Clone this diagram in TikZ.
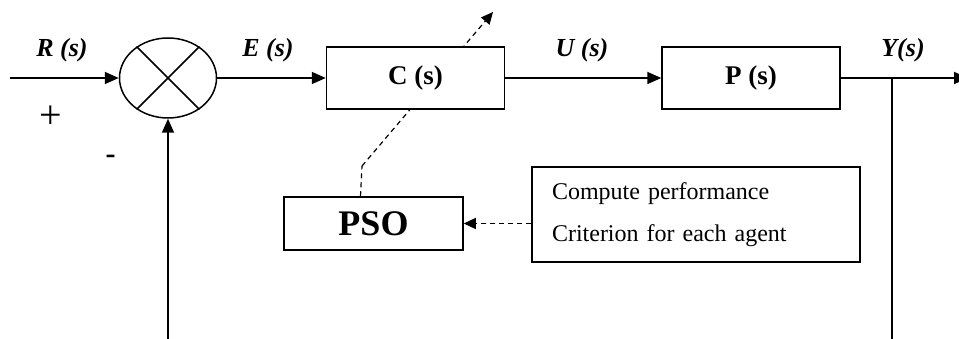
\documentclass[tikz,border=0pt]{standalone}
\usepackage{fontspec}
\setmainfont{Liberation Serif}
\usepackage{tikz}
\usetikzlibrary{shapes.geometric, arrows.meta}
\tikzstyle{block} = [rectangle, minimum width=178pt, minimum height=62pt, inner sep=0pt, text centered, draw=black, fill=white, line width=1.5pt, font=\fontsize{27}{30}\selectfont\bfseries]
\tikzstyle{summer} = [ellipse, minimum width=97pt, minimum height=80pt, inner sep=0pt, draw=black, line width=1.5pt]
\tikzstyle{signal} = [font=\fontsize{26}{30}\selectfont\bfseries\itshape]
\tikzstyle{sign} = [inner sep=0pt, font=\fontsize{40}{42}\selectfont]
\tikzstyle{arrow} = [line width=1.8pt,-{Triangle[length=14pt,width=12pt]}]
\tikzstyle{dasharrow} = [line width=1.2pt, dash pattern=on 5pt off 4pt,-{Triangle[length=12pt,width=11pt]}]

\begin{document}
\begin{tikzpicture}[x=1pt, y=-1pt]
		\useasboundingbox (0,0) rectangle (959,339);

		\node (sum) [summer] at (168,78) {};
		\node (pso) [block, minimum width=179pt, minimum height=53pt, font=\fontsize{36}{40}\selectfont\bfseries] at (373.5,223.5) {PSO};
		\node (comp) [rectangle, draw=black, line width=1.2pt, text width=288pt, inner xsep=20pt, minimum height=95pt, align=left, font=\fontsize{24}{42}\selectfont] at (696,214.5) {Compute performance\\Criterion for each agent};

		% tuning link from PSO to the controller
		\coordinate (bend) at (362,166);
		\coordinate (tune) at (493,12);
		\draw [line width=1.2pt, dash pattern=on 5pt off 4pt] ([xshift=-13pt]pso.north) -- (bend);
		\draw [dasharrow] (bend) -- (tune);

		\node (ctrl) [block] at (415.5,78) {C (s)};
		\node (plant) [block] at (751,78) {P (s)};

		\coordinate (rin) at (10,78);
		\coordinate (br) at (892,78);
		\coordinate (yout) at (968,78);
		\coordinate (ybot) at (892,345);
		\coordinate (fb) at (168,345);

		\node (rlab) [signal] at (62,50) {R (s)};
		\node (elab) [signal] at (268,50) {E (s)};
		\node (ulab) [signal] at (582,50) {U (s)};
		\node (ylab) [signal] at (903,50) {Y(s)};
		\node (plus) [sign] at (50.5,117) {+};
		\node (minus) [sign, font=\fontsize{30}{32}\selectfont\bfseries] at (110.5,159) {-};

		\draw [line width=1.5pt] (sum.135) -- (sum.-45);
		\draw [line width=1.5pt] (sum.45) -- (sum.-135);

		\draw [arrow] (rin) -- (sum.west);
		\draw [arrow] (sum.east) -- (ctrl.west);
		\draw [arrow] (ctrl.east) -- (plant.west);
		\draw [arrow] (plant.east) -- (yout);
		\draw [line width=1.8pt] (br) -- (ybot);
		\draw [arrow] (fb) -- (sum.south);
		\draw [dasharrow] (comp.west |- pso.east) -- (pso.east);
	\end{tikzpicture}
\end{document}
